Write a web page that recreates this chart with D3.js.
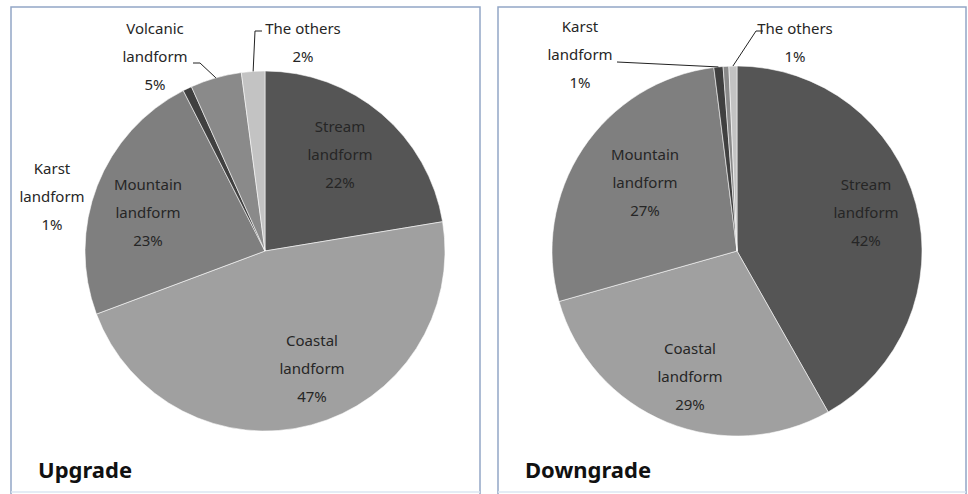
<!DOCTYPE html>
<html><head><meta charset="utf-8">
<script src="https://cdn.jsdelivr.net/npm/d3@7/dist/d3.min.js"></script>
<style>html,body{margin:0;padding:0;background:#fff;}svg{display:block;}</style>
</head><body>
<script>
// ---- data ----
const categories = ["Stream landform","Coastal landform","Mountain landform","Karst landform","Volcanic landform","The others"];
const upgradeValues   = [22.4, 46.9, 23.2, 0.8, 4.6, 2.1];
const downgradeValues = [41.8, 28.8, 27.4, 0.8, 0.5, 0.7];
const labelLines = [["Stream","landform"],["Coastal","landform"],["Mountain","landform"],["Karst","landform"],["Volcanic","landform"],["The others"]];
const panelTitles = ["Upgrade","Downgrade"];
const sliceColors = ["#555555","#a0a0a0","#7f7f7f","#404040","#8a8a8a","#c3c3c3"];

// ---- layout ----
const W = 968, H = 494;
const svg = d3.select("body").append("svg").attr("width", W).attr("height", H);
const font = "'Noto Sans', 'Open Sans', sans-serif";

const panels = [
  { x: 11, w: 469, cx: 265, cy: 251, r: 180, values: upgradeValues, title: panelTitles[0],
    labels: [ {x:340,y:155}, {x:312,y:369}, {x:148,y:213}, {x:52,y:197}, {x:155,y:57, leader:[[193,63],[200,63]]}, {x:303,y:43, leader:[[262,31],[255,31]]} ] },
  { x: 498, w: 468, cx: 737, cy: 251, r: 185, values: downgradeValues, title: panelTitles[1],
    labels: [ {x:866,y:213}, {x:690,y:377}, {x:645,y:183}, {x:580,y:55, leader:[[617,62]]}, null, {x:795,y:43, leader:[[763,31],[756,31]]} ] }
];

const pie = d3.pie().sort(null).value(d => d);
const lineH = 28;

panels.forEach(p => {
  const g = svg.append("g");
  // frame
  g.append("rect").attr("x", p.x).attr("y", 7).attr("width", p.w).attr("height", 510)
    .attr("fill", "none").attr("stroke", "#93a6c6").attr("stroke-width", 1.5);
  g.append("line").attr("x1", p.x).attr("x2", p.x + p.w).attr("y1", 492).attr("y2", 492)
    .attr("stroke", "#dbe6f2").attr("stroke-width", 1.5);

  const arcs = pie(p.values);
  const arc = d3.arc().innerRadius(0).outerRadius(p.r);
  const pg = g.append("g").attr("transform", `translate(${p.cx},${p.cy})`);
  pg.selectAll("path").data(arcs).join("path")
    .attr("d", arc)
    .attr("fill", (d, i) => sliceColors[i])
    .attr("stroke", "#ffffff").attr("stroke-width", 0.8).attr("stroke-opacity", 0.7);

  // labels
  arcs.forEach((a, i) => {
    const lab = p.labels[i];
    if (!lab) return;
    const lines = labelLines[i].concat([Math.round(p.values[i]) + "%"]);
    const n = lines.length;
    const t = g.append("text").attr("font-family", font).attr("font-size", 15)
      .attr("fill", "#262626").attr("text-anchor", "middle");
    lines.forEach((s, k) => {
      t.append("tspan").attr("x", lab.x).attr("y", lab.y + (k - (n - 1) / 2) * lineH + 5).text(s);
    });
    if (lab.leader) {
      const mid = (a.startAngle + a.endAngle) / 2;
      const end = [p.cx + p.r * Math.sin(mid), p.cy - p.r * Math.cos(mid)];
      const pts = lab.leader.concat([end]);
      g.append("path").attr("d", d3.line()(pts)).attr("fill", "none")
        .attr("stroke", "#222").attr("stroke-width", 1);
    }
  });

  g.append("text").attr("x", p.x + 27).attr("y", 478).attr("font-family", font)
    .attr("font-size", 22).attr("font-weight", "bold").attr("fill", "#111").text(p.title);
});
</script>
</body></html>
